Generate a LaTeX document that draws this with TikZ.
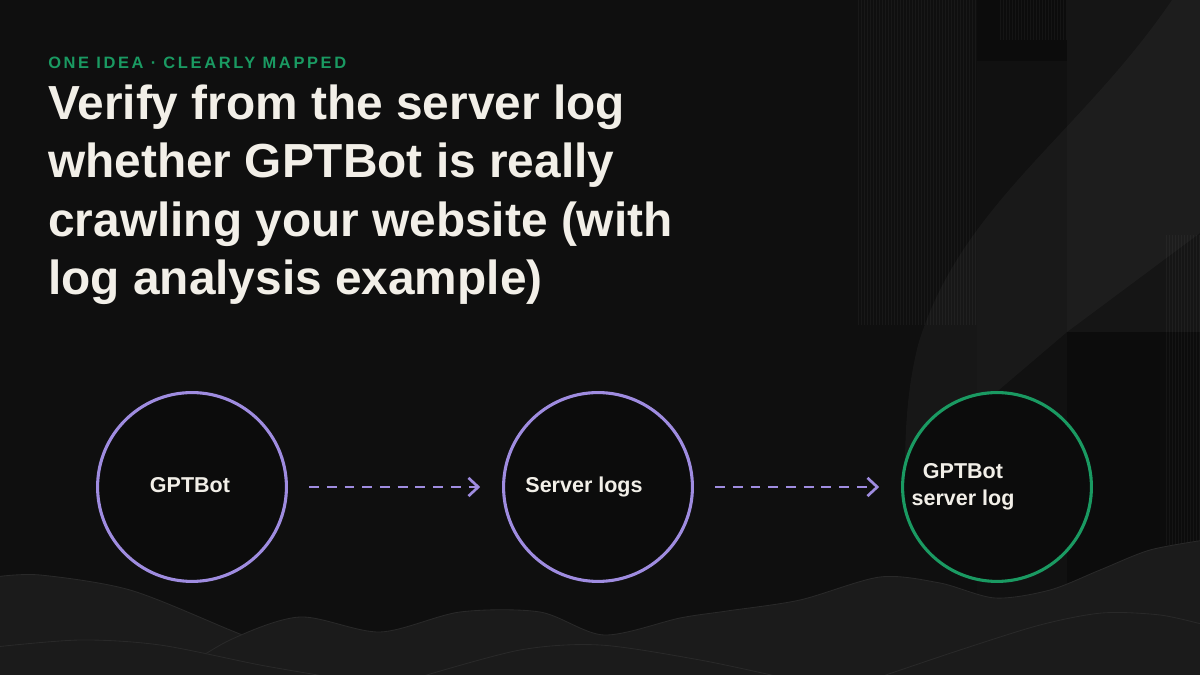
\documentclass[tikz,border=0pt]{standalone}
\usepackage{fontspec}
\setmainfont{Liberation Sans}
\usetikzlibrary{arrows.meta}
\definecolor{bgdark}{HTML}{0F0F0F}
\definecolor{holefill}{HTML}{0C0C0C}
\definecolor{wavefill}{HTML}{1B1B1B}
\definecolor{waveedge}{HTML}{292929}
\definecolor{lavender}{HTML}{9F8CE0}
\definecolor{mint}{HTML}{1A9A62}
\definecolor{paper}{HTML}{F2EFE8}
\begin{document}
\begin{tikzpicture}[x=0.025cm,y=0.025cm,
  stage/.style={draw=lavender,fill=holefill,circle,line width=2.2pt,minimum size=4.72cm,inner sep=0pt},
  goal/.style={stage,draw=mint},
  caption/.style={text=paper,font=\bfseries\fontsize{15.3}{19.2}\selectfont,align=center,inner sep=0pt},
  flow/.style={draw=lavender,line width=1.9pt,dash pattern=on 7pt off 5.6pt,
    -{Straight Barb[length=7pt,width=13pt,line width=1.9pt]},shorten <=15pt,shorten >=15.5pt},
  wave/.style={fill=wavefill,draw=waveedge,line width=0.6pt}]
\useasboundingbox (0,0) rectangle (1200,675);
\fill[bgdark] (0,0) rectangle (1200,675);

\fill[black,opacity=0.15] (977,0) rectangle (1200,675);
\fill[white,opacity=0.025] (977,0) rectangle (1067,614);
\fill[white,opacity=0.04] (1067,343) rectangle (1200,675);
\foreach \i in {0,...,39}
  \draw[white,opacity=0.04,line width=0.5pt] (858+\i*3,350) -- (858+\i*3,675);
\foreach \i in {0,...,22}
  \draw[white,opacity=0.04,line width=0.5pt] (1000+\i*3,635) -- (1000+\i*3,675);
\foreach \i in {0,...,11}
  \draw[white,opacity=0.04,line width=0.5pt] (1166+\i*3,130) -- (1166+\i*3,440);
\fill[white,opacity=0.035] (1172,675) .. controls (1080,540) and (960,470) .. (918,330)
  .. controls (908,290) and (905,250) .. (905,205) -- (1067,343) -- (1200,442) -- (1200,675) -- cycle;

\path[wave] plot[smooth] coordinates {(-5,98) (40,100) (130,85) (230,45) (290,20) (340,-2)} -- (-5,-2) -- cycle;
\path[wave] plot[smooth] coordinates {(170,-2) (230,35) (300,58) (380,43) (460,63) (540,63) (604,40) (680,57) (727,64)
  (800,75) (880,98) (940,92) (995,77) (1050,85) (1100,105) (1150,125) (1205,135)} -- (1205,-2) -- cycle;
\path[wave] plot[smooth] coordinates {(-5,28) (80,35) (160,30) (260,10) (330,-2)} -- (-5,-2) -- cycle;
\path[wave] plot[smooth] coordinates {(420,-2) (520,25) (600,30) (700,15) (780,-2)} -- cycle;
\path[wave] plot[smooth] coordinates {(880,-2) (960,25) (1040,50) (1102,62) (1160,60) (1205,50)} -- (1205,-2) -- cycle;

\node[anchor=base west,inner sep=0pt,text=mint,font=\bfseries\fontsize{11.7}{14}\selectfont\addfontfeature{LetterSpace=16}]
  (kicker) at (48,606) {ONE IDEA · CLEARLY MAPPED};
\node[anchor=north west,inner sep=0pt,align=left,text=paper,font=\bfseries\fontsize{34}{41.3}\selectfont]
  (headline) at (48,590) {Verify from the server log\\whether GPTBot is really\\crawling your website (with\\log analysis example)};

\node[stage] (gptbot) at (192,188) {};
\node[stage] (logs) at (598,188) {};
\node[goal] (serverlog) at (997,188) {};

\node[caption,anchor=base] (gptbotlabel) at (190,182) {GPTBot};
\node[caption,anchor=base] (logslabel) at (584,182) {Server logs};
\node[caption] (serverloglabel) at (963,188) {GPTBot\\server log};

\draw[flow] (gptbot) -- (logs);
\draw[flow] (logs) -- (serverlog);
\end{tikzpicture}
\end{document}
